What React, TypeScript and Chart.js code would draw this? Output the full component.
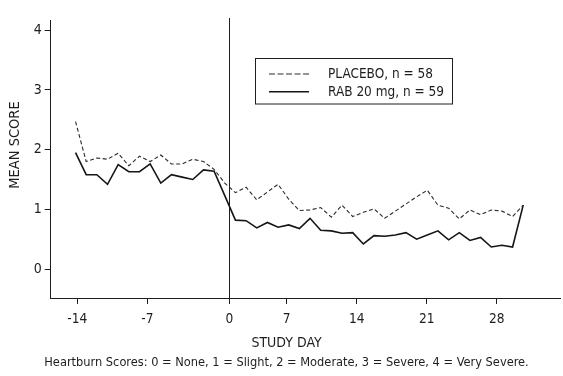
import React, { useEffect, useRef } from "react";
import { Chart, registerables } from "chart.js";

Chart.register(...registerables);

// ---------- data ----------
const studyDays = [
  -14, -13, -12, -11, -10, -9, -8, -7, -6, -5, -4, -3, -2, -1, 0, 1, 2, 3, 4, 5, 6, 7,
  8, 9, 10, 11, 12, 13, 14, 15, 16, 17, 18, 19, 20, 21, 22, 23, 24, 25, 26, 27, 28,
];
const placeboScores = [
  2.47, 1.8, 1.86, 1.84, 1.94, 1.73, 1.89, 1.8, 1.91, 1.76, 1.76, 1.84, 1.8, 1.67, 1.44,
  1.28, 1.37, 1.16, 1.29, 1.42, 1.17, 0.98, 0.99, 1.03, 0.87, 1.07, 0.88, 0.95, 1.01, 0.85,
  0.97, 1.09, 1.21, 1.32, 1.07, 1.02, 0.84, 0.99, 0.91, 0.99, 0.97, 0.88, 1.07,
];
const rab20Scores = [
  1.95, 1.58, 1.58, 1.42, 1.75, 1.63, 1.63, 1.76, 1.44, 1.58, 1.54, 1.5, 1.66, 1.64, 1.23,
  0.82, 0.81, 0.69, 0.78, 0.7, 0.74, 0.68, 0.85, 0.65, 0.64, 0.6, 0.61, 0.42, 0.56, 0.55,
  0.57, 0.61, 0.5, 0.57, 0.64, 0.49, 0.61, 0.48, 0.53, 0.37, 0.4, 0.37, 1.07,
];
const seriesLabels = ["PLACEBO, n = 58", "RAB 20 mg, n = 59"];
const xTickPositions = [-13.83, -7.26, 0.43, 5.81, 12.38, 18.95, 25.51];
const xTickLabels = ["-14", "-7", "0", "7", "14", "21", "28"];
const yTickValues = [0, 1, 2, 3, 4];
const treatmentStartDay = 0.43;
const xAxisTitle = "STUDY DAY";
const yAxisTitle = "MEAN SCORE";
const captionText =
  "Heartburn Scores: 0 = None, 1 = Slight, 2 = Moderate, 3 = Severe, 4 = Very Severe.";

// ---------- styles ----------
const FONT = "'Liberation Sans Narrow', 'Arial Narrow', 'DejaVu Sans Condensed', 'Roboto Condensed', 'Liberation Sans', sans-serif";
const INK = "#1e1e1e";

const extrasPlugin = {
  id: "extras",
  afterDatasetsDraw(chart: any) {
    const { ctx, chartArea, scales } = chart;
    ctx.save();
    // treatment start vertical line
    const vx = Math.round(scales.x.getPixelForValue(treatmentStartDay)) + 0.5;
    ctx.strokeStyle = INK;
    ctx.lineWidth = 1;
    ctx.beginPath();
    ctx.moveTo(vx, chartArea.top - 2);
    ctx.lineTo(vx, chartArea.bottom);
    ctx.stroke();

    // legend box
    const bx = 255.5, by = 58.5, bw = 197, bh = 45.5;
    ctx.strokeStyle = INK;
    ctx.lineWidth = 1;
    ctx.strokeRect(bx, by, bw, bh);
    chart.data.datasets.forEach((ds: any, i: number) => {
      const y = 74 + i * 17.7;
      ctx.beginPath();
      ctx.setLineDash(ds.borderDash && ds.borderDash.length ? [6, 2.5] : []);
      ctx.lineWidth = ds.borderWidth;
      ctx.strokeStyle = ds.borderColor;
      ctx.moveTo(269, y);
      ctx.lineTo(309, y);
      ctx.stroke();
      ctx.setLineDash([]);
      ctx.fillStyle = INK;
      ctx.font = `13.5px ${FONT}`;
      ctx.textAlign = "left";
      ctx.textBaseline = "middle";
      ctx.fillText(ds.label, 328, y + 0.5);
    });

    // y axis title
    ctx.translate(15, 145);
    ctx.rotate(-Math.PI / 2);
    ctx.fillStyle = INK;
    ctx.font = `14.5px ${FONT}`;
    ctx.textAlign = "center";
    ctx.textBaseline = "middle";
    ctx.fillText(yAxisTitle, 0, 0);
    ctx.restore();
  },
};

export default function App() {
  const canvasRef = useRef<HTMLCanvasElement | null>(null);

  useEffect(() => {
    if (!canvasRef.current) return;
    const chart = new Chart(canvasRef.current, {
      type: "line",
      data: {
        datasets: [
          {
            label: seriesLabels[0],
            data: studyDays.map((d, i) => ({ x: d, y: placeboScores[i] })),
            borderColor: "#2a2a2a",
            borderWidth: 1.1,
            borderDash: [4, 2.5],
            pointRadius: 0,
            tension: 0,
            fill: false,
          },
          {
            label: seriesLabels[1],
            data: studyDays.map((d, i) => ({ x: d, y: rab20Scores[i] })),
            borderColor: "#151515",
            borderWidth: 1.6,
            pointRadius: 0,
            tension: 0,
            fill: false,
          },
        ],
      },
      options: {
        responsive: false,
        animation: false,
        devicePixelRatio: 1,
        layout: { padding: { left: 13, right: 3, top: 20, bottom: 6 } },
        plugins: {
          legend: { display: false },
          tooltip: { enabled: false },
          subtitle: {
            display: true,
            position: "bottom",
            text: xAxisTitle,
            color: INK,
            font: { family: FONT, size: 14, weight: "normal", lineHeight: 1.2 },
            padding: { top: 9.5, bottom: 0 },
          },
          title: {
            display: true,
            position: "bottom",
            text: captionText,
            color: INK,
            font: { family: FONT, size: 12.7, weight: "normal", lineHeight: 1.2 },
            padding: { top: 3.5, bottom: 0 },
          },
        },
        scales: {
          x: {
            type: "linear",
            min: -16.33,
            max: 31.45,
            afterBuildTicks: (scale: any) => {
              scale.ticks = xTickPositions.map((v) => ({ value: v }));
            },
            afterFit: (scale: any) => {
              scale.height = 26;
            },
            ticks: {
              autoSkip: false,
              maxRotation: 0,
              padding: 7,
              color: INK,
              font: { family: FONT, size: 13.6 },
              callback: (_v: any, i: number) => xTickLabels[i],
            },
            grid: { display: true, drawOnChartArea: false, drawTicks: true, tickLength: 5, color: INK },
            border: { display: true, color: INK, width: 1 },
          },
          y: {
            type: "linear",
            min: -0.5,
            max: 4.17,
            afterBuildTicks: (scale: any) => {
              scale.ticks = yTickValues.map((v) => ({ value: v }));
            },
            afterFit: (scale: any) => {
              scale.width = 37.7;
            },
            ticks: {
              padding: 3,
              color: INK,
              font: { family: FONT, size: 14 },
              callback: (v: any) => String(v),
            },
            grid: { display: true, drawOnChartArea: false, drawTicks: true, tickLength: 6, color: INK },
            border: { display: true, color: INK, width: 1 },
          },
        },
      },
      plugins: [extrasPlugin],
    });
    return () => chart.destroy();
  }, []);

  return (
    <div style={{ position: "absolute", left: 0, top: 0, width: 563, height: 376, background: "#fff" }}>
      <canvas ref={canvasRef} width={563} height={376} style={{ width: 563, height: 376, display: "block" }} />
    </div>
  );
}
